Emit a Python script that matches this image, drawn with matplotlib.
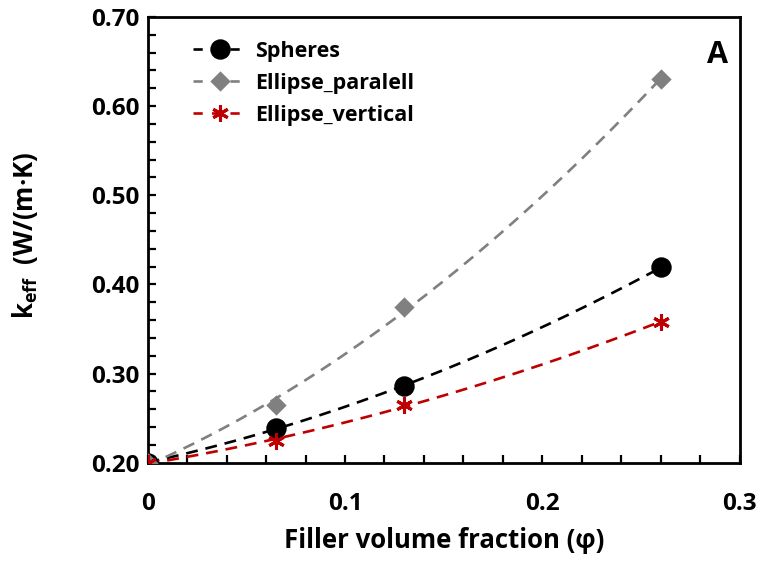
import numpy as np
import matplotlib
matplotlib.use("Agg")
import matplotlib.pyplot as plt
from matplotlib.lines import Line2D
from matplotlib.ticker import MultipleLocator

plt.rcParams['font.family'] = ['Open Sans', 'DejaVu Sans']
plt.rcParams['font.weight'] = 'bold'
plt.rcParams['mathtext.default'] = 'regular'

# données
phi = [0.0, 0.065, 0.13, 0.26]
k_spheres = [0.200, 0.239, 0.286, 0.419]
k_parallele = [0.200, 0.265, 0.375, 0.630]
k_verticale = [0.200, 0.224, 0.265, 0.358]
noms = ['Spheres', 'Ellipse_paralell', 'Ellipse_vertical']
x_ticks = [0, 0.1, 0.2, 0.3]
x_labels = ['0', '0.1', '0.2', '0.3']
y_ticks = [0.20, 0.30, 0.40, 0.50, 0.60, 0.70]

series = [
    (k_spheres, 'black', 'o', 12.5),
    (k_parallele, '#808080', 'D', 8.5),
    (k_verticale, '#C00000', (6, 2, 0), 12),
]

fig = plt.figure(figsize=(7.65, 5.61), dpi=100)
ax = fig.add_axes([0.193, 0.175, 0.774, 0.795])

x_fin = np.linspace(0, max(phi), 200)
handles = []
for (valeurs, couleur, marqueur, taille), nom in zip(series, noms):
    # courbe de tendance polynomiale (ordre 2), comme dans Excel
    coef = np.polyfit(phi, valeurs, 2)
    ax.plot(x_fin, np.polyval(coef, x_fin), color=couleur, lw=1.9,
            dashes=(4.5, 3), zorder=2)
    ax.plot(phi, valeurs, linestyle='none', marker=marqueur, ms=taille,
            color=couleur, mew=2.2, zorder=3)
    handles.append(Line2D([], [], color=couleur, lw=1.9, dashes=(3.5, 3.5),
                          marker=marqueur, ms=taille, mew=2.2, label=nom))

ax.set_xlim(0, 0.3)
ax.set_ylim(0.2, 0.7)
ax.set_xticks(x_ticks)
ax.set_xticklabels(x_labels)
ax.set_yticks(y_ticks)
ax.set_yticklabels([f"{v:.2f}" for v in y_ticks])
ax.xaxis.set_minor_locator(MultipleLocator(0.02))
ax.yaxis.set_minor_locator(MultipleLocator(0.02))
ax.tick_params(which='both', direction='in', length=6, width=1.6,
               labelsize=17.5, top=False, right=False)
ax.tick_params(axis='x', pad=21)
ax.tick_params(axis='y', pad=6)
for s in ax.spines.values():
    s.set_linewidth(2)

ax.set_xlabel("Filler volume fraction (φ)", fontsize=18.5, fontweight='bold',
              labelpad=8)
ax.set_ylabel("k$_{eff}$  (W/(m·K)", fontsize=18.5, fontweight='bold')
ax.yaxis.set_label_coords(-0.182, 0.51)

ax.text(0.98, 0.915, "A", transform=ax.transAxes, fontsize=22,
        fontweight='bold', ha='right', va='center')

leg = ax.legend(handles=handles, loc='upper left', frameon=False,
                fontsize=15.5, handlelength=2.5, handletextpad=0.4,
                labelspacing=0.5, borderpad=0, bbox_to_anchor=(0.058, 0.97))

fig.savefig("out.png", dpi=100)
